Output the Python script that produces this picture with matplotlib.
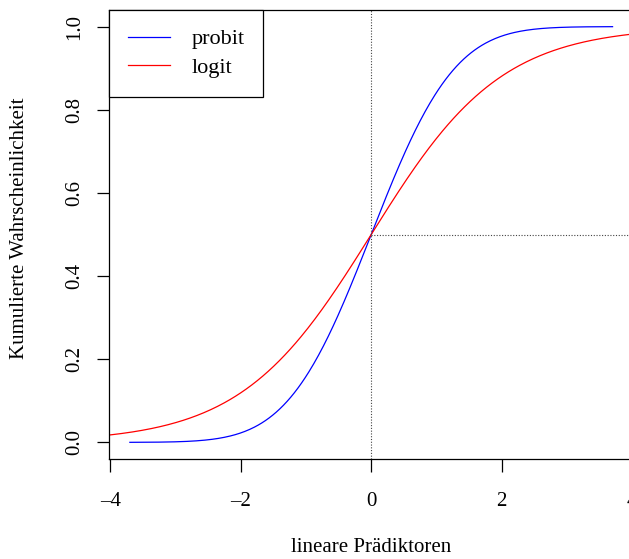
import numpy as np
import matplotlib
matplotlib.use("Agg")
import matplotlib.pyplot as plt
from math import erf, sqrt

plt.rcParams['font.family'] = ['Liberation Serif', 'DejaVu Serif']
plt.rcParams['font.size'] = 15

# data: x ranges for the two link-function CDF curves
probit_range = (-3.7, 3.7)
logit_range = (-4.0, 4.4)
series_names = ["probit", "logit"]
series_colors = ["blue", "red"]
xticks = [-4, -2, 0, 2, 4]
yticks = [0.0, 0.2, 0.4, 0.6, 0.8, 1.0]
ytick_labels = ["0.0", "0.2", "0.4", "0.6", "0.8", "1.0"]

x_p = np.linspace(probit_range[0], probit_range[1], 400)
y_p = np.array([0.5 * (1 + erf(v / sqrt(2))) for v in x_p])
x_l = np.linspace(logit_range[0], logit_range[1], 400)
y_l = 1 / (1 + np.exp(-x_l))

W, H = 629, 559
fig = plt.figure(figsize=(W / 100, H / 100), dpi=100)
left, right, top, bottom = 109, 653, 10, 459
ax = fig.add_axes([left / W, 1 - bottom / H, (right - left) / W, (bottom - top) / H])
ax.set_xlim(-4.02, 4.32)
ax.set_ylim(-0.04, 1.04)

ax.plot(x_p, y_p, color=series_colors[0], lw=0.9, label=series_names[0])
ax.plot(x_l, y_l, color=series_colors[1], lw=0.9, label=series_names[1])

ax.axvline(0, color='#444444', lw=0.8, ls=(0, (1, 1.5)))
ax.plot([0, 10], [0.5, 0.5], color='#444444', lw=0.8, ls=(0, (1, 1.5)))

for s in ax.spines.values():
    s.set_linewidth(0.9)
    s.set_color('black')

ax.set_xticks(xticks)
ax.set_xticklabels(["\u2013" + str(-t) if t < 0 else str(t) for t in xticks])
ax.set_yticks(yticks)
ax.set_yticklabels(ytick_labels, rotation=90, va='center')
ax.tick_params(axis='x', length=9, width=0.9, pad=15, labelsize=15)
ax.tick_params(axis='y', length=9, width=0.9, pad=9, labelsize=15)

fig.text(371 / W, 1 - 548 / H, "lineare Prädiktoren", ha='center', va='center', fontsize=15)
fig.text(20 / W, 1 - 228 / H, "Kumulierte Wahrscheinlichkeit", ha='center', va='center',
         rotation=90, fontsize=15)

leg = ax.legend(loc='upper left', bbox_to_anchor=(0, 1), borderaxespad=0, fancybox=False,
                edgecolor='black', framealpha=1, handlelength=1.9, handletextpad=0.95,
                borderpad=0.85, labelspacing=0.35, fontsize=16)
leg.get_frame().set_linewidth(0.9)

fig.savefig("out.png", dpi=100)
